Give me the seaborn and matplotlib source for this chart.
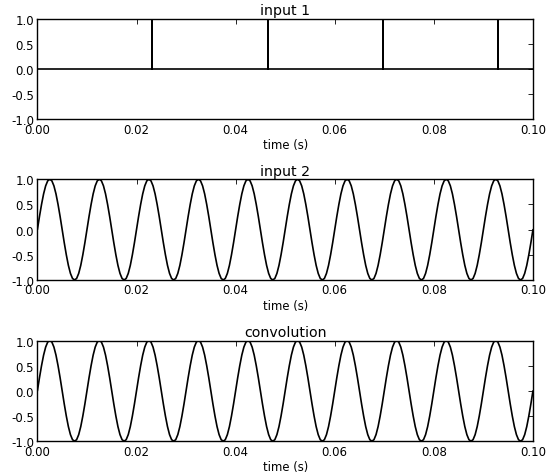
import numpy as np
import pandas as pd
import matplotlib
matplotlib.use("Agg")
import matplotlib.pyplot as plt
import seaborn as sns
from matplotlib.ticker import FormatStrFormatter

# ---- data ----
impulse_times = [0.02322, 0.04644, 0.06966, 0.09288]   # seconds, height 1
impulse_height = 1.0
t_end = 0.10
cycle_period = 0.01                                     # s (100 Hz)
n_cycles = 10
input2_cycle = [0.0, 0.26, 0.5, 0.71, 0.87, 0.97, 1.0, 0.97, 0.87, 0.71, 0.5, 0.26,
                0.0, -0.26, -0.5, -0.71, -0.87, -0.97, -1.0, -0.97, -0.87, -0.71, -0.5, -0.26]
conv_cycle = [0.0, 0.26, 0.5, 0.71, 0.87, 0.97, 1.0, 0.97, 0.87, 0.71, 0.5, 0.26,
              0.0, -0.26, -0.5, -0.71, -0.87, -0.97, -1.0, -0.97, -0.87, -0.71, -0.5, -0.26]
titles = ["input 1", "input 2", "convolution"]
xlabel = "time (s)"
xticks = [0.00, 0.02, 0.04, 0.06, 0.08, 0.10]
yticks = [-1.0, -0.5, 0.0, 0.5, 1.0]

# ---- build series ----
x1 = [0.0]
y1 = [0.0]
for ti in impulse_times:
    x1 += [ti, ti, ti]
    y1 += [0.0, impulse_height, 0.0]
x1.append(t_end)
y1.append(0.0)
df1 = pd.DataFrame({"t": x1, "v": y1})

def tiled(cycle):
    vals = list(cycle) * n_cycles + [cycle[0]]
    n = len(cycle)
    t = [i * cycle_period / n for i in range(len(vals))]
    return pd.DataFrame({"t": t, "v": vals})

df2 = tiled(input2_cycle)
df3 = tiled(conv_cycle)

sns.set_style("white")
plt.rcParams["font.family"] = ["DejaVu Sans"]
plt.rcParams["axes.unicode_minus"] = True
plt.rcParams["text.color"] = "black"

fig = plt.figure(figsize=(5.5, 4.77), dpi=100)
lefts = 0.068
width = 0.969 - 0.068
bottoms = [0.748, 0.411, 0.073]
height = 0.211

for df, title, b in zip([df1, df2, df3], titles, bottoms):
    ax = fig.add_axes([lefts, b, width, height])
    sns.lineplot(data=df, x="t", y="v", sort=False, estimator=None,
                 color="black", linewidth=1.2, ax=ax)
    ax.set_xlim(0, t_end)
    ax.set_ylim(-1.0, 1.0)
    ax.set_xticks(xticks)
    ax.set_yticks(yticks)
    ax.xaxis.set_major_formatter(FormatStrFormatter("%.2f"))
    ax.yaxis.set_major_formatter(FormatStrFormatter("%.1f"))
    ax.tick_params(direction="in", top=True, right=True, length=3.5,
                   width=0.6, labelsize=8.5, pad=2.5, colors="black")
    ax.set_xlabel(xlabel, fontsize=8.4, labelpad=1.5, color="black")
    ax.set_ylabel("")
    ax.set_title(title, fontsize=10.2, pad=3, color="black")
    for s in ax.spines.values():
        s.set_color("black")
        s.set_linewidth(1.0)

fig.savefig("out.png", dpi=100, facecolor="white")
